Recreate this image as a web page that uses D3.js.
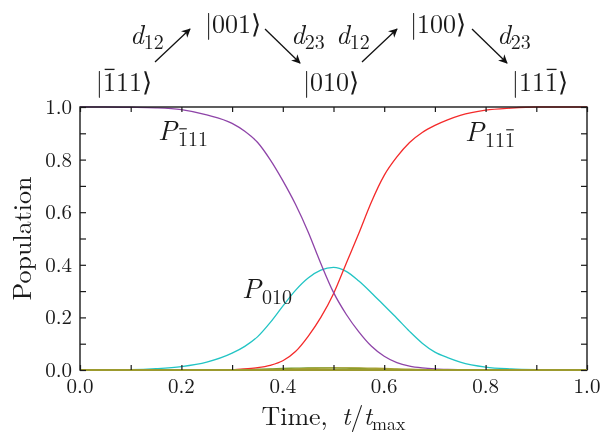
<!DOCTYPE html>
<html><head><meta charset="utf-8">
<script src="https://cdn.jsdelivr.net/npm/d3@7"></script>
<style>
html,body{margin:0;padding:0;background:#fff;}
#chart{will-change:transform;}
</style></head>
<body>
<svg id="chart" width="613" height="434"></svg>
<script>
// ---- data ----
const times = [0,0.05,0.1,0.15,0.2,0.25,0.3,0.325,0.35,0.375,0.4,0.425,0.45,0.475,0.5,0.525,0.55,0.575,0.6,0.625,0.65,0.675,0.7,0.725,0.75,0.8,0.85,0.9,0.95,1.0];
const pBar111 = [1,1,0.999,0.997,0.99,0.97,0.938,0.908,0.866,0.80,0.72,0.63,0.525,0.405,0.295,0.212,0.145,0.09,0.052,0.028,0.015,0.008,0.004,0.002,0.001,0,0,0,0,0];
const p010    = [0,0,0.001,0.005,0.013,0.03,0.064,0.09,0.126,0.18,0.243,0.303,0.35,0.38,0.39,0.375,0.338,0.293,0.245,0.197,0.147,0.102,0.068,0.047,0.03,0.011,0.004,0.001,0,0];
const p11Bar  = [0,0,0,0,0,0,0.001,0.004,0.009,0.018,0.035,0.07,0.128,0.2,0.29,0.405,0.52,0.64,0.74,0.81,0.865,0.903,0.93,0.951,0.968,0.988,0.996,1,1,1];
const p001    = [0,0,0,0,0,0,0.001,0.002,0.003,0.004,0.006,0.007,0.008,0.008,0.008,0.007,0.006,0.004,0.003,0.002,0.001,0.001,0,0,0,0,0,0,0,0];
const p100    = [0,0,0,0,0,0,0,0.001,0.001,0.002,0.003,0.004,0.006,0.007,0.008,0.008,0.008,0.007,0.006,0.004,0.003,0.002,0.001,0.001,0,0,0,0,0,0];
const xTicks = [0,0.2,0.4,0.6,0.8,1.0];
const yTicks = [0,0.2,0.4,0.6,0.8,1.0];
const minorTicks = [0,0.1,0.2,0.3,0.4,0.5,0.6,0.7,0.8,0.9,1.0];

const series = [
  {name:"P001", values:p001, color:"#6f9a2a"},
  {name:"P100", values:p100, color:"#a6a032"},
  {name:"P010", values:p010, color:"#22c4c4"},
  {name:"P11b", values:p11Bar, color:"#f42a2a"},
  {name:"Pb111", values:pBar111, color:"#8e44a8"}
];

const FONT = "'Latin Modern Roman'";
const INK = "#1a1a1a";

// ---- layout ----
const svg = d3.select("#chart");
const L = 80, R = 587, T = 107, B = 370;
const x = d3.scaleLinear().domain([0,1]).range([L,R]);
const y = d3.scaleLinear().domain([0,1]).range([B,T]);

// curves
const line = d3.line().x((d,i)=>x(times[i])).y(d=>y(d)).curve(d3.curveMonotoneX);
svg.append("g").selectAll("path").data(series).join("path")
  .attr("d", d=>line(d.values))
  .attr("fill","none").attr("stroke",d=>d.color).attr("stroke-width",1.3);

// frame
svg.append("rect").attr("x",L).attr("y",T).attr("width",R-L).attr("height",B-T)
  .attr("fill","none").attr("stroke",INK).attr("stroke-width",1.4);
// olive baseline overlay (near-zero populations overlap axis)
svg.append("path").attr("d", line(p100.map(()=>0))).attr("stroke","#9c9a2e").attr("stroke-width",2).attr("fill","none");

// axes (ticks inward)
const ax = svg.append("g");
ax.append("g").attr("transform",`translate(0,${B})`)
  .call(d3.axisBottom(x).tickValues(minorTicks).tickSize(-5).tickFormat(""))
  .call(g=>g.select(".domain").remove());
ax.append("g").attr("transform",`translate(0,${T})`)
  .call(d3.axisTop(x).tickValues(minorTicks).tickSize(-5).tickFormat(""))
  .call(g=>g.select(".domain").remove());
ax.append("g").attr("transform",`translate(${L},0)`)
  .call(d3.axisLeft(y).tickValues(minorTicks).tickSize(-6).tickFormat(""))
  .call(g=>g.select(".domain").remove());
ax.append("g").attr("transform",`translate(${R},0)`)
  .call(d3.axisRight(y).tickValues(minorTicks).tickSize(-6).tickFormat(""))
  .call(g=>g.select(".domain").remove());
ax.selectAll(".tick line").attr("stroke",INK).attr("stroke-width",1.2);

// tick labels
svg.append("g").selectAll("text").data(xTicks).join("text")
  .attr("font-family",FONT).attr("fill",INK)
  .attr("x",d=>x(d)).attr("y",B+23).attr("text-anchor","middle")
  .attr("font-size",21).text(d=>d.toFixed(1));
svg.append("g").selectAll("text").data(yTicks).join("text")
  .attr("font-family",FONT).attr("fill",INK)
  .attr("x",L-8).attr("y",d=>y(d)+7).attr("text-anchor","end")
  .attr("font-size",21).text(d=>d.toFixed(1));

// axis titles
const xt = svg.append("text").attr("font-family",FONT).attr("fill",INK).attr("x",(L+R)/2).attr("y",425).attr("text-anchor","middle").attr("font-size",26);
xt.append("tspan").text("Time,");
xt.append("tspan").attr("dx",14).attr("font-style","italic").text("t");
xt.append("tspan").text("/");
xt.append("tspan").attr("font-style","italic").text("t");
xt.append("tspan").attr("font-size",18).attr("dy",5).text("max");
svg.append("text").attr("font-family",FONT).attr("fill",INK).attr("transform",`translate(31,${(T+B)/2}) rotate(-90)`)
  .attr("text-anchor","middle").attr("font-size",26).text("Population");

// overline helper: draws a thin bar over a character of a text element
function overline(tspan, thick){
  const node = tspan.node();
  const txt = node.parentNode;
  let idx = 0;
  for (const c of txt.childNodes){ if(c===node) break; idx += c.textContent.length; }
  const ext = txt.getExtentOfChar(idx);
  svg.append("line").attr("x1",ext.x+ext.width*0.12).attr("x2",ext.x+ext.width*0.88)
    .attr("y1",ext.y+ext.height*0.2).attr("y2",ext.y+ext.height*0.2)
    .attr("stroke",INK).attr("stroke-width",thick);
}

// curve labels
function pLabel(px, py, parts){
  const t = svg.append("text").attr("font-family",FONT).attr("fill",INK).attr("x",px).attr("y",py).attr("font-size",28);
  t.append("tspan").attr("font-style","italic").text("P");
  const bars=[];
  parts.forEach((p,i)=>{
    const s = t.append("tspan").attr("font-size",20).text(p.c);
    if(i===0) s.attr("dy",6).attr("dx",1);
    if(p.bar) bars.push(s);
  });
  bars.forEach(s=>overline(s,1.1));
}
pLabel(158,140,[{c:"1",bar:true},{c:"11"}]);
pLabel(242,298,[{c:"010"}]);
pLabel(465,141,[{c:"11"},{c:"1",bar:true}]);

// top transition diagram
const kets = [
  {x:124, y:91, parts:[{c:"1",bar:true},{c:"11"}]},
  {x:233, y:33, parts:[{c:"001"}]},
  {x:331, y:91, parts:[{c:"010"}]},
  {x:438, y:33, parts:[{c:"100"}]},
  {x:540, y:91, parts:[{c:"11"},{c:"1",bar:true}]}
];
kets.forEach(k=>{
  const t = svg.append("text").attr("font-family",FONT).attr("fill",INK).attr("x",k.x).attr("y",k.y).attr("text-anchor","middle").attr("font-size",26);
  t.append("tspan").text("|");
  const bars=[];
  k.parts.forEach(p=>{ const s=t.append("tspan").text(p.c); if(p.bar) bars.push(s); });
  t.append("tspan").text("\u27E9");
  bars.forEach(s=>overline(s,1.3));
});
const dlabels = [
  {x:130, y:44, s:"12"},{x:291, y:44, s:"23"},{x:336, y:44, s:"12"},{x:497, y:44, s:"23"}
];
dlabels.forEach(d=>{
  const t = svg.append("text").attr("font-family",FONT).attr("fill",INK).attr("x",d.x).attr("y",d.y).attr("font-size",27);
  t.append("tspan").attr("font-style","italic").text("d");
  t.append("tspan").attr("font-size",20).attr("dy",5).text(d.s);
});
const defs = svg.append("defs");
defs.append("marker").attr("id","ah").attr("viewBox","0 0 10 10").attr("refX",9).attr("refY",5)
  .attr("markerWidth",9).attr("markerHeight",9).attr("markerUnits","userSpaceOnUse").attr("orient","auto")
  .append("path").attr("d","M0,0 L10,5 L0,10 L3,5 Z").attr("fill","#111");
const arrows = [
  [155,62,190,29],[265,29,300,63],[362,62,397,29],[472,29,507,63]
];
svg.append("g").selectAll("line").data(arrows).join("line")
  .attr("x1",d=>d[0]).attr("y1",d=>d[1]).attr("x2",d=>d[2]).attr("y2",d=>d[3])
  .attr("stroke","#111").attr("stroke-width",1.3).attr("marker-end","url(#ah)");
</script>
</body></html>
